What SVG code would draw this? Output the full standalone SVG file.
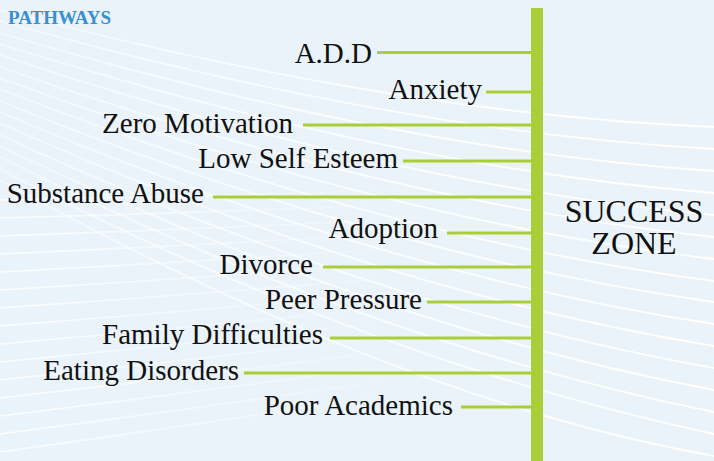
<svg xmlns="http://www.w3.org/2000/svg" width="714" height="461" viewBox="0 0 714 461">
  <defs>
    <linearGradient id="fadeB" gradientUnits="userSpaceOnUse" x1="0" y1="0" x2="460" y2="0">
      <stop offset="0" stop-color="#ffffff" stop-opacity="0.85"/>
      <stop offset="1" stop-color="#ffffff" stop-opacity="0"/>
    </linearGradient>
    <linearGradient id="fadeA" gradientUnits="userSpaceOnUse" x1="0" y1="0" x2="714" y2="0">
      <stop offset="0" stop-color="#ffffff" stop-opacity="0.5"/>
      <stop offset="0.7" stop-color="#ffffff" stop-opacity="0.95"/>
      <stop offset="1" stop-color="#ffffff" stop-opacity="1"/>
    </linearGradient>
  </defs>
  <style>
    .bgA { fill: none; stroke: url(#fadeA); stroke-width: 1.8; }
    .bgB { fill: none; stroke: url(#fadeB); stroke-width: 1.6; }
    text { font-family: 'Liberation Serif', 'DejaVu Serif', serif; }
    .lbl { font-size: 29px; fill: #111111; text-anchor: end; }
    .zone { font-size: 32px; fill: #111111; text-anchor: middle; }
    .title { font-size: 19px; font-weight: bold; fill: #3a8fd0; }
    .conn { stroke: #a9cf38; stroke-width: 3; fill: none; }
  </style>

  <rect x="0" y="0" width="714" height="461" fill="#eaf3fa"/>

  <g id="background">
    <path class="bgB" d="M0,200 Q230,196 460,188"/>
    <path class="bgB" d="M0,218 Q230,212 460,202"/>
    <path class="bgB" d="M0,236 Q230,228 460,216"/>
    <path class="bgB" d="M0,254 Q230,244 460,230"/>
    <path class="bgB" d="M0,272 Q230,260 460,244"/>
    <path class="bgB" d="M0,290 Q230,276 460,258"/>
    <path class="bgB" d="M0,308 Q230,292 460,272"/>
    <path class="bgB" d="M0,326 Q230,308 460,286"/>
    <path class="bgB" d="M0,344 Q230,324 460,300"/>
    <path class="bgB" d="M0,362 Q230,340 460,314"/>
    <path class="bgB" d="M0,380 Q230,356 460,328"/>
    <path class="bgB" d="M0,398 Q230,372 460,342"/>
    <path class="bgB" d="M0,416 Q230,388 460,356"/>
    <path class="bgB" d="M0,434 Q230,404 460,370"/>
    <path class="bgB" d="M0,452 Q230,420 460,384"/>
    <path class="bgA" d="M0,10 C238,72 476,117 714,127"/>
    <path class="bgA" d="M0,21 C238,87 476,136 714,149"/>
    <path class="bgA" d="M0,33 C238,103 476,155 714,171"/>
    <path class="bgA" d="M0,44 C238,118 476,174 714,193"/>
    <path class="bgA" d="M0,55 C238,134 476,193 714,215"/>
    <path class="bgA" d="M0,67 C238,150 476,212 714,237"/>
    <path class="bgA" d="M0,78 C238,166 476,231 714,259"/>
    <path class="bgA" d="M0,89 C238,182 476,250 714,281"/>
    <path class="bgA" d="M0,101 C238,197 476,269 714,302"/>
    <path class="bgA" d="M0,112 C238,213 476,288 714,324"/>
    <path class="bgA" d="M0,123 C238,229 476,307 714,346"/>
    <path class="bgA" d="M0,135 C238,245 476,326 714,368"/>
    <path class="bgA" d="M0,146 C238,261 476,345 714,390"/>
    <path class="bgA" d="M0,157 C238,277 476,364 714,412"/>
    <path class="bgA" d="M0,169 C238,294 476,383 714,434"/>
    <path class="bgA" d="M0,180 C238,311 476,413 714,456"/>
  </g>

  <g id="title">
    <text class="title" x="8" y="24">PATHWAYS</text>
  </g>

  <g id="connectors">
    <line class="conn" x1="377" y1="52.5" x2="532" y2="52.5"/>
    <line class="conn" x1="486" y1="92" x2="532" y2="92"/>
    <line class="conn" x1="303" y1="125" x2="532" y2="125"/>
    <line class="conn" x1="403" y1="161" x2="532" y2="161"/>
    <line class="conn" x1="213" y1="197" x2="532" y2="197"/>
    <line class="conn" x1="447" y1="233" x2="532" y2="233"/>
    <line class="conn" x1="323" y1="267" x2="532" y2="267"/>
    <line class="conn" x1="427" y1="302" x2="532" y2="302"/>
    <line class="conn" x1="330" y1="338" x2="532" y2="338"/>
    <line class="conn" x1="244" y1="373" x2="532" y2="373"/>
    <line class="conn" x1="461" y1="407" x2="532" y2="407"/>
  </g>

  <g id="success-zone">
    <rect x="531" y="8" width="12" height="453" fill="#a9cf38"/>
    <text class="zone" x="634" y="222">SUCCESS</text>
    <text class="zone" x="634" y="254">ZONE</text>
  </g>

  <g id="node-add"><text class="lbl" x="372" y="63">A.D.D</text></g>
  <g id="node-anxiety"><text class="lbl" x="482" y="99">Anxiety</text></g>
  <g id="node-zero-motivation"><text class="lbl" x="293" y="133">Zero Motivation</text></g>
  <g id="node-low-self-esteem"><text class="lbl" x="398" y="168">Low Self Esteem</text></g>
  <g id="node-substance-abuse"><text class="lbl" x="204" y="203">Substance Abuse</text></g>
  <g id="node-adoption"><text class="lbl" x="438" y="238">Adoption</text></g>
  <g id="node-divorce"><text class="lbl" x="313" y="274">Divorce</text></g>
  <g id="node-peer-pressure"><text class="lbl" x="422" y="309">Peer Pressure</text></g>
  <g id="node-family-difficulties"><text class="lbl" x="323" y="344">Family Difficulties</text></g>
  <g id="node-eating-disorders"><text class="lbl" x="239" y="380">Eating Disorders</text></g>
  <g id="node-poor-academics"><text class="lbl" x="453" y="415">Poor Academics</text></g>
</svg>
